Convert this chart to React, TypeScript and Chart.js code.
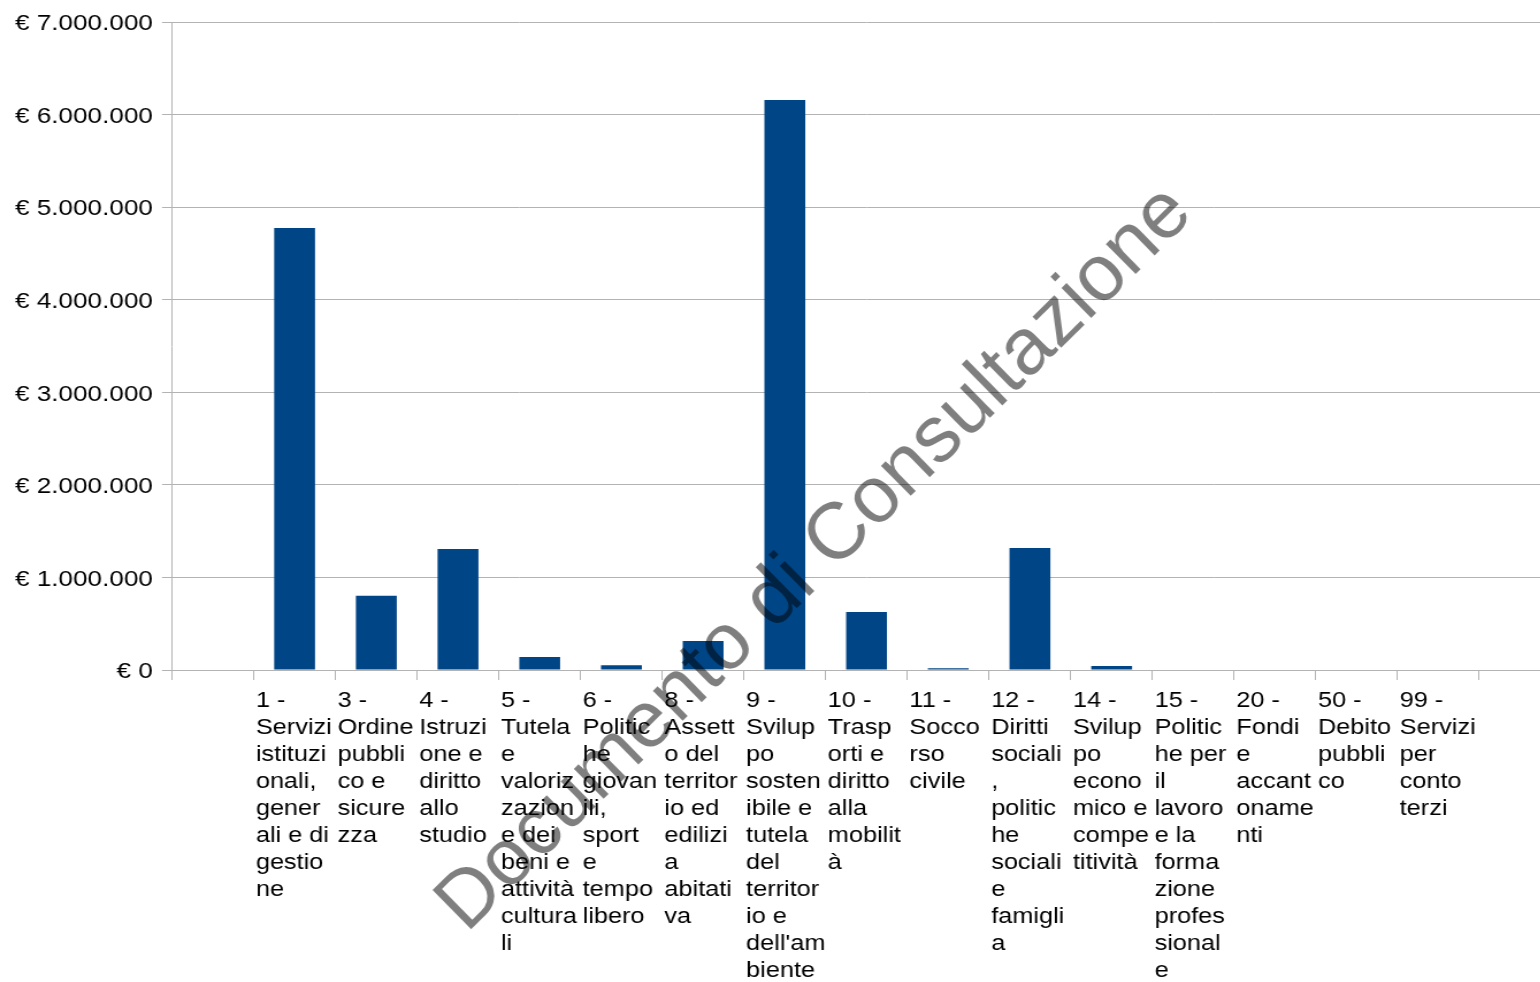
import React, { useEffect, useRef } from 'react';
import { Chart, registerables } from 'chart.js';

Chart.register(...registerables);

// ---- data ----
const categories: (string | string[])[] = [
  '',
  ['1 -', 'Servizi', 'istituzi', 'onali,', 'gener', 'ali e di', 'gestio', 'ne'],
  ['3 -', 'Ordine', 'pubbli', 'co e', 'sicure', 'zza'],
  ['4 -', 'Istruzi', 'one e', 'diritto', 'allo', 'studio'],
  ['5 -', 'Tutela', 'e', 'valoriz', 'zazion', 'e dei', 'beni e', 'attività', 'cultura', 'li'],
  ['6 -', 'Politic', 'he', 'giovan', 'ili,', 'sport', 'e', 'tempo', 'libero'],
  ['8 -', 'Assett', 'o del', 'territor', 'io ed', 'edilizi', 'a', 'abitati', 'va'],
  ['9 -', 'Svilup', 'po', 'sosten', 'ibile e', 'tutela', 'del', 'territor', 'io e', "dell'am", 'biente'],
  ['10 -', 'Trasp', 'orti e', 'diritto', 'alla', 'mobilit', 'à'],
  ['11 -', 'Socco', 'rso', 'civile'],
  ['12 -', 'Diritti', 'sociali', ',', 'politic', 'he', 'sociali', 'e', 'famigli', 'a'],
  ['14 -', 'Svilup', 'po', 'econo', 'mico e', 'compe', 'titività'],
  ['15 -', 'Politic', 'he per', 'il', 'lavoro', 'e la', 'forma', 'zione', 'profes', 'sional', 'e'],
  ['20 -', 'Fondi', 'e', 'accant', 'oname', 'nti'],
  ['50 -', 'Debito', 'pubbli', 'co'],
  ['99 -', 'Servizi', 'per', 'conto', 'terzi'],
  '',
];

const spesa: (number | null)[] = [
  null, 4775000, 802000, 1306000, 140000, 52000, 313000, 6158000, 627000, 20000, 1318000, 42000, 0, 0, 0, 0, null,
];

const yMin = 0;
const yMax = 7000000;
const yStep = 1000000;

const watermarkText = 'Documento di Consultazione';

// ---- layout / style ----
const STRETCH = 1.15;
const VIEW_W = 1540;
const VIEW_H = 982;
const PLOT_LEFT = 172;
const PLOT_RIGHT = 1561;
const PLOT_TOP = 22;
const PLOT_BOTTOM = 670;
const CANVAS_W = Math.round(PLOT_RIGHT / STRETCH);
const FONT = "'Liberation Sans', Arial, sans-serif";
const GRID = '#b3b3b3';
const BAR = '#004586';

function euro(v: number): string {
  const s = Math.round(v).toString().replace(/\B(?=(\d{3})+(?!\d))/g, '.');
  return '€ ' + s;
}

const watermarkPlugin = {
  id: 'watermark',
  afterDraw(chart: any) {
    const ctx = chart.ctx as CanvasRenderingContext2D;
    ctx.save();
    ctx.scale(1 / STRETCH, 1);
    ctx.translate(815, 559);
    ctx.rotate((-44.6 * Math.PI) / 180);
    ctx.font = `80px ${FONT}`;
    ctx.fillStyle = 'rgba(0,0,0,0.5)';
    ctx.textAlign = 'center';
    ctx.textBaseline = 'middle';
    ctx.fillText(watermarkText, 0, 0);
    ctx.restore();
  },
};

export default function App() {
  const ref = useRef<HTMLCanvasElement | null>(null);

  useEffect(() => {
    if (!ref.current) return;
    const chart = new Chart(ref.current, {
      type: 'bar',
      data: {
        labels: categories as any,
        datasets: [
          {
            data: spesa as any,
            backgroundColor: BAR,
            borderWidth: 0,
            barPercentage: 0.5,
            categoryPercentage: 1.0,
          },
        ],
      },
      options: {
        responsive: false,
        animation: false,
        devicePixelRatio: 1,
        events: [],
        layout: { padding: { top: PLOT_TOP, left: 0, right: 0, bottom: 0 } },
        plugins: {
          legend: { display: false },
          tooltip: { enabled: false },
          title: { display: false },
        },
        scales: {
          x: {
            type: 'category',
            offset: true,
            afterFit: (scale: any) => {
              scale.height = VIEW_H - PLOT_BOTTOM;
            },
            grid: {
              offset: true,
              drawOnChartArea: false,
              drawTicks: true,
              tickLength: 10,
              color: GRID,
              lineWidth: 1,
            },
            border: { display: true, color: GRID, width: 1 },
            ticks: {
              autoSkip: false,
              maxRotation: 0,
              minRotation: 0,
              align: 'start',
              labelOffset: -33.7,
              padding: 7,
              color: '#000000',
              font: { family: FONT, size: 22, lineHeight: 27 / 22 },
            },
          },
          y: {
            min: yMin,
            max: yMax,
            afterFit: (scale: any) => {
              scale.width = PLOT_LEFT / STRETCH;
            },
            grid: {
              color: GRID,
              lineWidth: 1,
              drawTicks: true,
              tickLength: 10 / STRETCH,
            },
            border: { display: true, color: GRID, width: 1 },
            ticks: {
              stepSize: yStep,
              padding: 8,
              labelOffset: 2,
              color: '#000000',
              font: { family: FONT, size: 22.7 },
              callback: (v: any) => euro(Number(v)),
            },
          },
        },
      },
      plugins: [watermarkPlugin],
    });
    return () => chart.destroy();
  }, []);

  return (
    <div
      style={{
        position: 'fixed',
        left: 0,
        top: 0,
        width: VIEW_W,
        height: VIEW_H,
        overflow: 'hidden',
        background: '#ffffff',
      }}
    >
      <canvas
        ref={ref}
        width={CANVAS_W}
        height={VIEW_H}
        style={{ display: 'block', width: `${CANVAS_W * STRETCH}px`, height: `${VIEW_H}px` }}
      />
    </div>
  );
}
